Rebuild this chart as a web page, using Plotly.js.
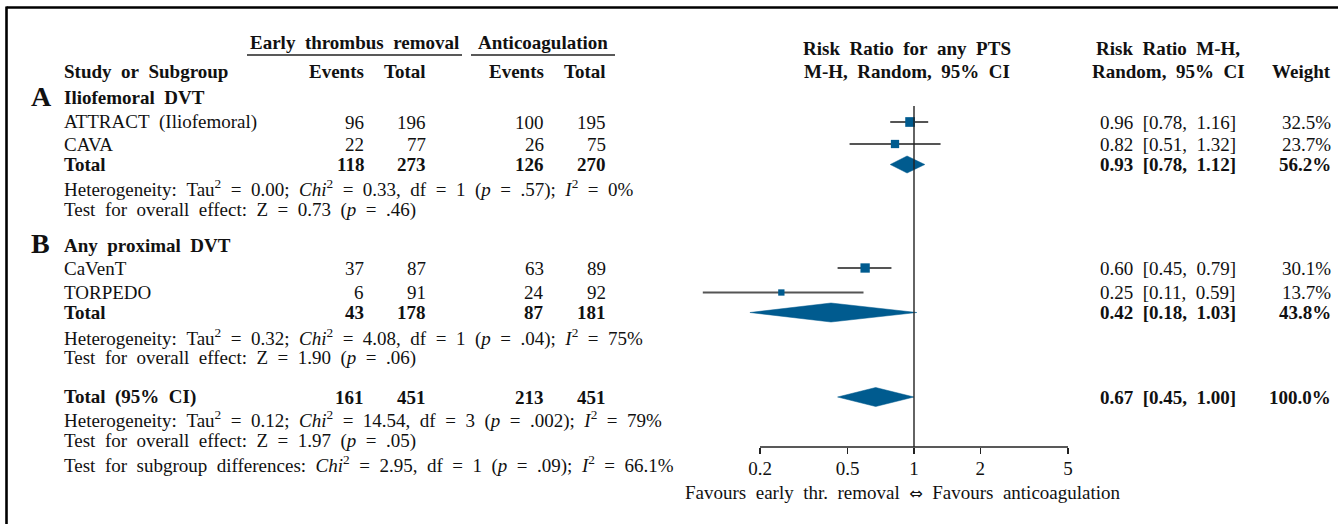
<!DOCTYPE html>
<html>
<head>
<meta charset="utf-8">
<script src="https://cdn.plot.ly/plotly-3.0.1.min.js"></script>
<style>html,body{margin:0;padding:0;background:#fff;}#chart{width:1338px;height:524px;}</style>
</head>
<body>
<div id="chart"></div>
<script>
// ---------- data ----------
const studies = ['ATTRACT (Iliofemoral)', 'CAVA', 'CaVenT', 'TORPEDO'];
const eventsTR = [96, 22, 37, 6];
const totalTR = [196, 77, 87, 91];
const eventsAC = [100, 26, 63, 24];
const totalAC = [195, 75, 89, 92];
const rr = [0.96, 0.82, 0.60, 0.25];
const rrLow = [0.78, 0.51, 0.45, 0.11];
const rrHigh = [1.16, 1.32, 0.79, 0.59];
const weight = [32.5, 23.7, 30.1, 13.7];

const poolNames = ['Total', 'Total', 'Total (95% CI)'];
const poolEventsTR = [118, 43, 161];
const poolTotalTR = [273, 178, 451];
const poolEventsAC = [126, 87, 213];
const poolTotalAC = [270, 181, 451];
const poolRR = [0.93, 0.42, 0.67];
const poolLow = [0.78, 0.18, 0.45];
const poolHigh = [1.12, 1.03, 1.00];
const poolWeight = [56.2, 43.8, 100.0];

const groupLetters = ['A', 'B'];
const groupNames = ['Iliofemoral DVT', 'Any proximal DVT'];
const hetText = [
  'Heterogeneity: Tau<sup>2</sup> = 0.00; <i>Chi</i><sup>2</sup> = 0.33, df = 1 (<i>p</i> = .57); <i>I</i><sup>2</sup> = 0%',
  'Heterogeneity: Tau<sup>2</sup> = 0.32; <i>Chi</i><sup>2</sup> = 4.08, df = 1 (<i>p</i> = .04); <i>I</i><sup>2</sup> = 75%',
  'Heterogeneity: Tau<sup>2</sup> = 0.12; <i>Chi</i><sup>2</sup> = 14.54, df = 3 (<i>p</i> = .002); <i>I</i><sup>2</sup> = 79%'
];
const effectText = [
  'Test for overall effect: Z = 0.73 (<i>p</i> = .46)',
  'Test for overall effect: Z = 1.90 (<i>p</i> = .06)',
  'Test for overall effect: Z = 1.97 (<i>p</i> = .05)'
];
const subgroupText = 'Test for subgroup differences: <i>Chi</i><sup>2</sup> = 2.95, df = 1 (<i>p</i> = .09); <i>I</i><sup>2</sup> = 66.1%';
const tickVals = [0.2, 0.5, 1, 2, 5];
const tickLabels = ['0.2', '0.5', '1', '2', '5'];
const axisLeft = 'Favours early thr. removal';
const axisRight = 'Favours anticoagulation';

// ---------- layout positions (pixels) ----------
const W = 1338, H = 524;
const studyY = [122, 144, 268, 292.5];
const poolY = [164.5, 312.5, 397];
const groupY = [97, 245];
const letterY = [96, 243];
const hetY = [188, 337, 419];
const effY = [210, 358, 441];
const subY = 464;
const axisY = 447;
const refTop = 106;
const favY = 492;
const colX = {name: 62, ev1: 366, tot1: 428, ev2: 546, tot2: 608, rr: 1098, wt: 1333};

const FONT = 'Liberation Serif, Times New Roman, serif';
const FS = 19;
const BLUE = '#005b8f';
const px = v => v / W;
const wide = s => s.replace(/ /g, '\u2002');   // typographic (wider) spacing like the original

const ann = [];
function txt(x, y, text, anchor, opts) {
  opts = opts || {};
  ann.push({
    xref: 'paper', yref: 'y', x: px(x), y: y, text: wide(text), showarrow: false,
    xanchor: anchor, yanchor: 'middle',
    font: {family: FONT, size: opts.size || FS, color: '#111'}
  });
}
const b = s => '<b>' + s + '</b>';
const fmtRR = (r, l, h) => r.toFixed(2) + ' [' + l.toFixed(2) + ', ' + h.toFixed(2) + ']';

// headers
txt(354, 42, b('Early thrombus removal'), 'center');
txt(543, 42, b('Anticoagulation'), 'center');
txt(colX.name, 71, b('Study or Subgroup'), 'left');
txt(colX.ev1, 71, b('Events'), 'right');
txt(colX.tot1, 71, b('Total'), 'right');
txt(colX.ev2, 71, b('Events'), 'right');
txt(colX.tot2, 71, b('Total'), 'right');
txt(907, 48, b('Risk Ratio for any PTS'), 'center');
txt(907, 71, b('M-H, Random, 95% CI'), 'center');
txt(1168, 48, b('Risk Ratio M-H,'), 'center');
txt(1168, 71, b('Random, 95% CI'), 'center');
txt(colX.wt, 71, b('Weight'), 'right');

// group headers
for (let g = 0; g < 2; g++) {
  txt(29, letterY[g], b(groupLetters[g]), 'left', {size: 28});
  txt(colX.name, groupY[g], b(groupNames[g]), 'left');
}
// studies
for (let i = 0; i < studies.length; i++) {
  const y = studyY[i];
  txt(colX.name, y, studies[i], 'left');
  txt(colX.ev1, y, String(eventsTR[i]), 'right');
  txt(colX.tot1, y, String(totalTR[i]), 'right');
  txt(colX.ev2, y, String(eventsAC[i]), 'right');
  txt(colX.tot2, y, String(totalAC[i]), 'right');
  txt(colX.rr, y, fmtRR(rr[i], rrLow[i], rrHigh[i]), 'left');
  txt(colX.wt, y, weight[i].toFixed(1) + '%', 'right');
}
// pooled
for (let k = 0; k < poolNames.length; k++) {
  const y = poolY[k];
  txt(colX.name, y, b(poolNames[k]), 'left');
  txt(colX.ev1, y, b(String(poolEventsTR[k])), 'right');
  txt(colX.tot1, y, b(String(poolTotalTR[k])), 'right');
  txt(colX.ev2, y, b(String(poolEventsAC[k])), 'right');
  txt(colX.tot2, y, b(String(poolTotalAC[k])), 'right');
  txt(colX.rr, y, b(fmtRR(poolRR[k], poolLow[k], poolHigh[k])), 'left');
  txt(colX.wt, y, b(poolWeight[k].toFixed(1) + '%'), 'right');
  txt(colX.name, hetY[k], hetText[k], 'left');
  txt(colX.name, effY[k], effectText[k], 'left');
}
txt(colX.name, subY, subgroupText, 'left');
// axis label with a small hollow double arrow
ann.push({
  xref: 'paper', yref: 'y', x: px(903), y: favY, showarrow: false, xanchor: 'center', yanchor: 'middle',
  text: wide(axisLeft) + '\u2002<span style="font-family:DejaVu Sans;font-size:16px">\u21D4</span>\u2002' + wide(axisRight),
  font: {family: FONT, size: FS, color: '#111'}
});

// ---------- traces ----------
const traces = [];
// confidence interval whiskers
for (let i = 0; i < rr.length; i++) {
  traces.push({
    type: 'scatter', mode: 'lines', x: [rrLow[i], rrHigh[i]], y: [studyY[i], studyY[i]],
    line: {color: '#555', width: 1.8}, hoverinfo: 'skip'
  });
}
// study squares (area ~ weight)
traces.push({
  type: 'scatter', mode: 'markers', x: rr, y: studyY,
  marker: {symbol: 'square', color: BLUE, size: weight.map(w => 1.7 * Math.sqrt(w)), opacity: 1, line: {width: 0}},
  hoverinfo: 'skip', cliponaxis: false
});
// pooled diamonds
const dH = [8.5, 9.5, 9.5];
for (let k = 0; k < poolRR.length; k++) {
  const y = poolY[k];
  traces.push({
    type: 'scatter', mode: 'lines', fill: 'toself', fillcolor: BLUE,
    x: [poolLow[k], poolRR[k], poolHigh[k], poolRR[k], poolLow[k]],
    y: [y, y - dH[k], y, y + dH[k], y],
    line: {color: BLUE, width: 0.5}, hoverinfo: 'skip'
  });
}

// ---------- shapes ----------
const shapes = [
  {type: 'line', xref: 'paper', yref: 'paper', x0: px(6.5), x1: 1, y0: 1 - 7.5 / H, y1: 1 - 7.5 / H, line: {color: '#000', width: 2.6}},
  {type: 'line', xref: 'paper', yref: 'paper', x0: px(6.5), x1: px(6.5), y0: 0, y1: 1 - 6.5 / H, line: {color: '#000', width: 2.6}},
  {type: 'line', xref: 'paper', yref: 'y', x0: px(247), x1: px(462), y0: 55, y1: 55, line: {color: '#222', width: 1.6}},
  {type: 'line', xref: 'paper', yref: 'y', x0: px(471), x1: px(615), y0: 55, y1: 55, line: {color: '#222', width: 1.6}},
  {type: 'line', xref: 'x', yref: 'y', x0: 1, x1: 1, y0: refTop, y1: axisY, line: {color: '#222', width: 1.4}},
  {type: 'line', xref: 'x', yref: 'y', x0: tickVals[0], x1: tickVals[tickVals.length - 1], y0: axisY, y1: axisY, line: {color: '#222', width: 1.4}}
];

const pxPerDecade = 308 / Math.log10(25);
const x1px = 914;
const layout = {
  width: W, height: H,
  margin: {l: 0, r: 0, t: 0, b: 0, pad: 0},
  paper_bgcolor: '#fff', plot_bgcolor: '#fff',
  showlegend: false,
  xaxis: {
    type: 'log', range: [-x1px / pxPerDecade, (W - x1px) / pxPerDecade],
    domain: [0, 1], anchor: 'free', position: 1 - axisY / H,
    tickvals: tickVals, ticktext: tickLabels,
    ticks: 'outside', ticklen: 6, tickwidth: 1.4, tickcolor: '#222',
    ticklabelstandoff: -2,
    showline: false, showgrid: false, zeroline: false,
    tickfont: {family: FONT, size: 19, color: '#111'},
    fixedrange: true
  },
  yaxis: {range: [H, 0], domain: [0, 1], visible: false, fixedrange: true},
  annotations: ann,
  shapes: shapes
};

Plotly.newPlot('chart', traces, layout, {staticPlot: true, displayModeBar: false});
</script>
</body>
</html>
